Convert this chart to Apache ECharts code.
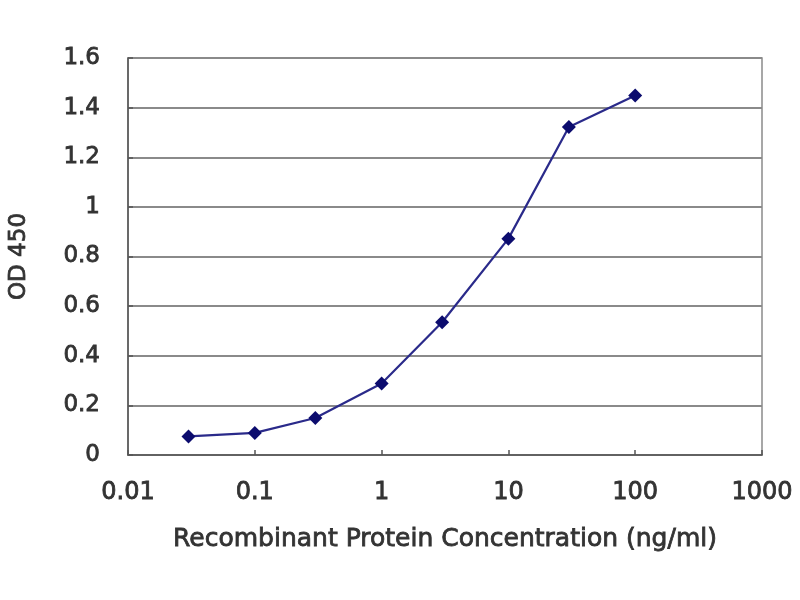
<!DOCTYPE html>
<html>
<head>
<meta charset="utf-8">
<script src="https://cdn.jsdelivr.net/npm/echarts@6/dist/echarts.min.js"></script>
<style>
html,body{margin:0;padding:0;background:#fff;}
#chart{width:800px;height:600px;}
</style>
</head>
<body>
<div id="chart"></div>
<script>
// Data
const concentrations = [0.03, 0.1, 0.3, 1, 3, 10, 30, 100];
const od450 = [0.075, 0.089, 0.149, 0.288, 0.535, 0.872, 1.322, 1.449];
const xTicks = [0.01, 0.1, 1, 10, 100, 1000];
const yTicks = [0, 0.2, 0.4, 0.6, 0.8, 1, 1.2, 1.4, 1.6];
const xTitle = 'Recombinant Protein Concentration (ng/ml)';
const yTitle = 'OD 450';

const chart = echarts.init(document.getElementById('chart'), null, {renderer: 'canvas'});
const font = 'DejaVu Sans';
const textColor = '#333333';
const heavy = {textBorderColor: '#333333', textBorderWidth: 0.8};

chart.setOption({
  backgroundColor: '#ffffff',
  animation: false,
  grid: {left: 128, right: 38, top: 58, bottom: 145, show: true, borderColor: '#8a8a8a', borderWidth: 1.5,
    containLabel: false, outerBoundsMode: 'none'},
  xAxis: {
    type: 'log',
    logBase: 10,
    min: xTicks[0],
    max: xTicks[xTicks.length - 1],
    name: xTitle,
    nameLocation: 'middle',
    nameGap: 72,
    nameTextStyle: Object.assign({fontFamily: font, fontSize: 25, color: textColor}, heavy),
    axisLine: {lineStyle: {color: '#555', width: 1.5}},
    axisTick: {inside: true, length: 5, lineStyle: {color: '#555', width: 1.5}},
    axisLabel: Object.assign({fontFamily: font, fontSize: 24, color: textColor, margin: 26,
      formatter: v => String(+v)}, heavy),
    splitLine: {show: false},
    minorTick: {show: false}
  },
  yAxis: {
    type: 'value',
    min: yTicks[0],
    max: yTicks[yTicks.length - 1],
    interval: 0.2,
    name: yTitle,
    nameLocation: 'middle',
    nameGap: 97,
    nameRotate: 90,
    nameTextStyle: Object.assign({fontFamily: font, fontSize: 23, color: textColor}, heavy),
    axisLine: {show: true, lineStyle: {color: '#555', width: 1.5}},
    axisTick: {show: true, inside: true, length: 5, lineStyle: {color: '#555', width: 1.5}},
    axisLabel: Object.assign({fontFamily: font, fontSize: 23, color: textColor, margin: 28,
      formatter: v => String(+v.toFixed(1))}, heavy),
    splitLine: {show: true, lineStyle: {color: '#8a8a8a', width: 2}}
  },
  series: [{
    type: 'line',
    data: concentrations.map((c, i) => [c, od450[i]]),
    symbol: 'diamond',
    symbolSize: 14,
    lineStyle: {color: '#2a2a8a', width: 2.2},
    itemStyle: {color: '#0c0c6e'}
  }]
});
</script>
</body>
</html>
